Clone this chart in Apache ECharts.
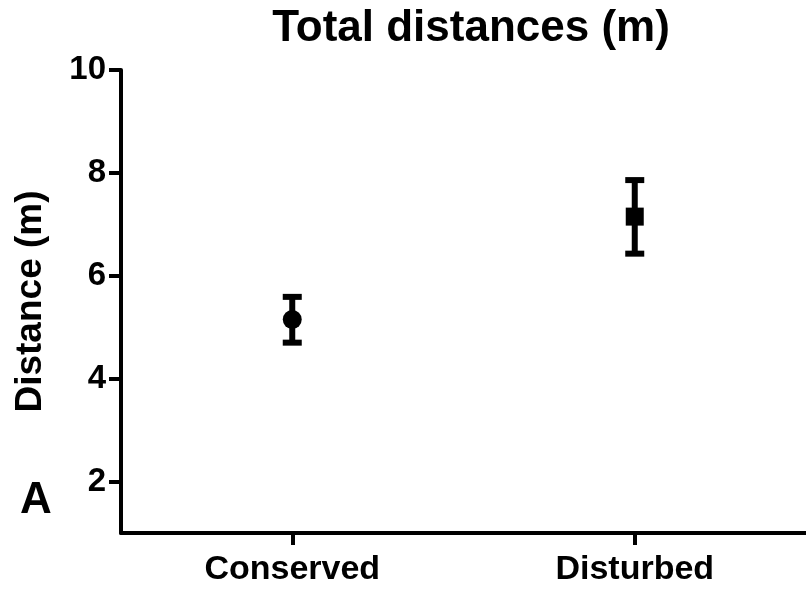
<!DOCTYPE html>
<html>
<head>
<meta charset="utf-8">
<script src="https://cdn.jsdelivr.net/npm/echarts@6/dist/echarts.min.js"></script>
<style>
html,body{margin:0;padding:0;background:#fff;}
#main{width:806px;height:594px;}
</style>
</head>
<body>
<div id="main"></div>
<script>
var categories = ['Conserved', 'Disturbed'];
var means = [5.15, 7.15];
var upper = [5.59, 7.86];
var lower = [4.70, 6.43];
var yTicks = [2, 4, 6, 8, 10];
var symbols = ['circle', 'rect'];
var symbolSizes = [19, 18];

var FONT = '"Liberation Sans", Arial, Helvetica, sans-serif';
var chart = echarts.init(document.getElementById('main'));

var errData = categories.map(function (c, i) { return [i, lower[i], upper[i]]; });
var pointData = categories.map(function (c, i) {
  return { value: [i, means[i]], symbol: symbols[i], symbolSize: symbolSizes[i] };
});

var option = {
  backgroundColor: '#fff',
  animation: false,
  title: {
    text: 'Total distances (m)',
    left: 466, textAlign: 'center',
    top: 2,
    textStyle: { fontFamily: FONT, fontWeight: 'bold', fontSize: 44, color: '#000' }
  },
  grid: { left: 121, right: 0, top: 70, bottom: 61, containLabel: false },
  xAxis: {
    type: 'category',
    data: categories,
    boundaryGap: true,
    axisLine: { lineStyle: { color: '#000', width: 4 } },
    axisTick: { show: true, alignWithLabel: true, length: 12, lineStyle: { color: '#000', width: 4 } },
    axisLabel: { margin: 20, color: '#000', fontFamily: FONT, fontWeight: 'bold', fontSize: 34 },
    splitLine: { show: false }
  },
  yAxis: {
    type: 'value',
    min: 1, max: 10,
    name: 'Distance (m)',
    nameLocation: 'middle',
    nameRotate: 90,
    nameGap: 72,
    nameTextStyle: { fontFamily: FONT, fontWeight: 'bold', fontSize: 37, color: '#000' },
    axisLine: { show: true, lineStyle: { color: '#000', width: 4 } },
    axisTick: { show: true, length: 12, customValues: yTicks, lineStyle: { color: '#000', width: 4 } },
    axisLabel: { margin: 15, customValues: yTicks, color: '#000', fontFamily: FONT, fontWeight: 'bold', fontSize: 33 },
    splitLine: { show: false }
  },
  graphic: [{
    type: 'text', left: 20, top: 479,
    style: { text: 'A', fontFamily: FONT, fontWeight: 'bold', fontSize: 44, fill: '#000' }
  }],
  series: [
    {
      type: 'custom',
      data: errData,
      z: 2,
      renderItem: function (params, api) {
        var x = api.value(0);
        var lo = api.coord([x, api.value(1)]);
        var hi = api.coord([x, api.value(2)]);
        var hw = 9.5;
        var st = { stroke: '#000', lineWidth: 6, fill: 'none' };
        return {
          type: 'group',
          children: [
            { type: 'line', shape: { x1: lo[0], y1: lo[1], x2: hi[0], y2: hi[1] }, style: st },
            { type: 'line', shape: { x1: hi[0] - hw, y1: hi[1], x2: hi[0] + hw, y2: hi[1] }, style: st },
            { type: 'line', shape: { x1: lo[0] - hw, y1: lo[1], x2: lo[0] + hw, y2: lo[1] }, style: st }
          ]
        };
      }
    },
    {
      type: 'scatter',
      data: pointData,
      z: 3,
      itemStyle: { color: '#000', opacity: 1 }
    }
  ]
};
chart.setOption(option);
</script>
</body>
</html>
